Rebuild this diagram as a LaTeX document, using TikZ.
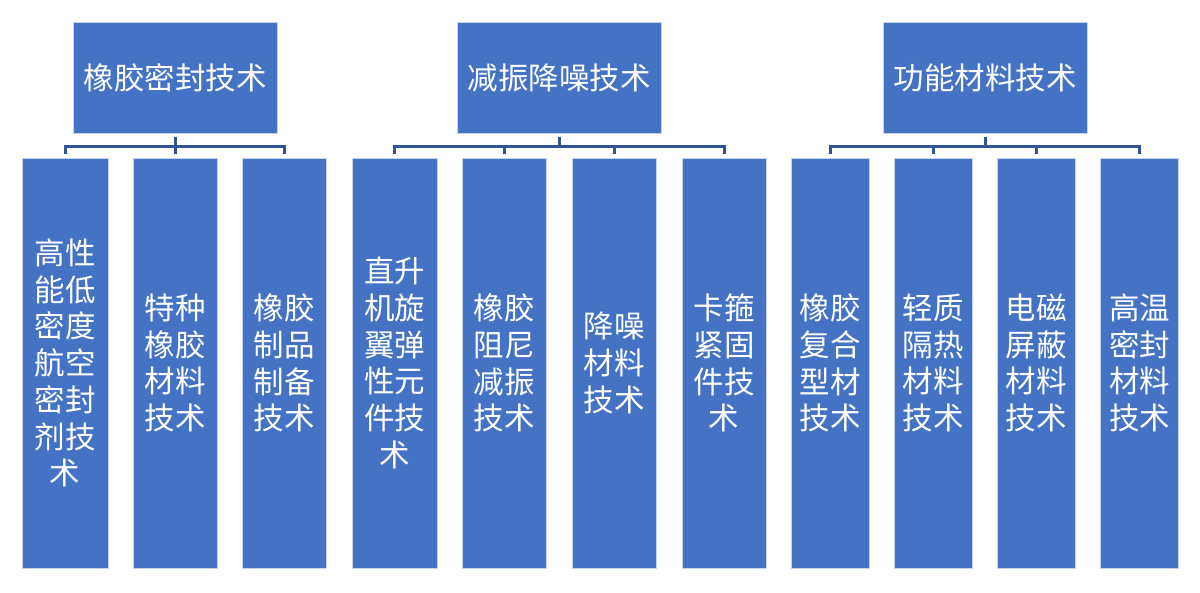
\documentclass[tikz,border=0pt]{standalone}
\usepackage{fontspec}
\setmainfont{Noto Sans CJK SC}
\definecolor{boxblue}{RGB}{68,114,196}
\definecolor{lineblue}{RGB}{47,85,151}
\definecolor{edgeblue}{RGB}{200,212,235}
\begin{document}
\begin{tikzpicture}[x=1pt,y=-1pt,
  box/.style={rectangle,fill=boxblue,draw=edgeblue,line width=0.8pt,inner sep=0pt,
    text=white,font=\fontsize{30.5pt}{36.7pt}\selectfont,align=center},
  topbox/.style={box,minimum width=204pt,minimum height=111pt},
  leaf/.style={box,minimum height=410pt},
  conn/.style={draw=lineblue,line width=3pt,shorten <=4pt,shorten >=4pt}]
\useasboundingbox (0,0) rectangle (1200,593);
% group 1
\node[topbox] (t1) at (175,77.5) {橡胶密封技术};
\node[leaf,minimum width=86pt] (a1) at (65,363) {高性\\能低\\密度\\航空\\密封\\剂技\\术};
\node[leaf,minimum width=84pt] (a2) at (175,363) {特种\\橡胶\\材料\\技术};
\node[leaf,minimum width=84pt] (a3) at (284,363) {橡胶\\制品\\制备\\技术};
% group 2
\node[topbox] (t2) at (559,77.5) {减振降噪技术};
\node[leaf,minimum width=85pt] (b1) at (394.5,363) {直升\\机旋\\翼弹\\性元\\件技\\术};
\node[leaf,minimum width=84pt] (b2) at (504,363) {橡胶\\阻尼\\减振\\技术};
\node[leaf,minimum width=84pt] (b3) at (614,363) {降噪\\材料\\技术};
\node[leaf,minimum width=84pt] (b4) at (724,363) {卡箍\\紧固\\件技\\术};
% group 3
\node[topbox] (t3) at (985,77.5) {功能材料技术};
\node[leaf,minimum width=78pt] (c1) at (830,363) {橡胶\\复合\\型材\\技术};
\node[leaf,minimum width=78pt] (c2) at (933,363) {轻质\\隔热\\材料\\技术};
\node[leaf,minimum width=78pt] (c3) at (1036,363) {电磁\\屏蔽\\材料\\技术};
\node[leaf,minimum width=78pt] (c4) at (1139.5,363) {高温\\密封\\材料\\技术};
% connectors
\foreach \c in {a1,a2,a3} \draw[conn] (t1.south) -- ++(0,13) -| (\c.north);
\foreach \c in {b1,b2,b3,b4} \draw[conn] (t2.south) -- ++(0,13) -| (\c.north);
\foreach \c in {c1,c2,c3,c4} \draw[conn] (t3.south) -- ++(0,13) -| (\c.north);
\end{tikzpicture}
\end{document}
